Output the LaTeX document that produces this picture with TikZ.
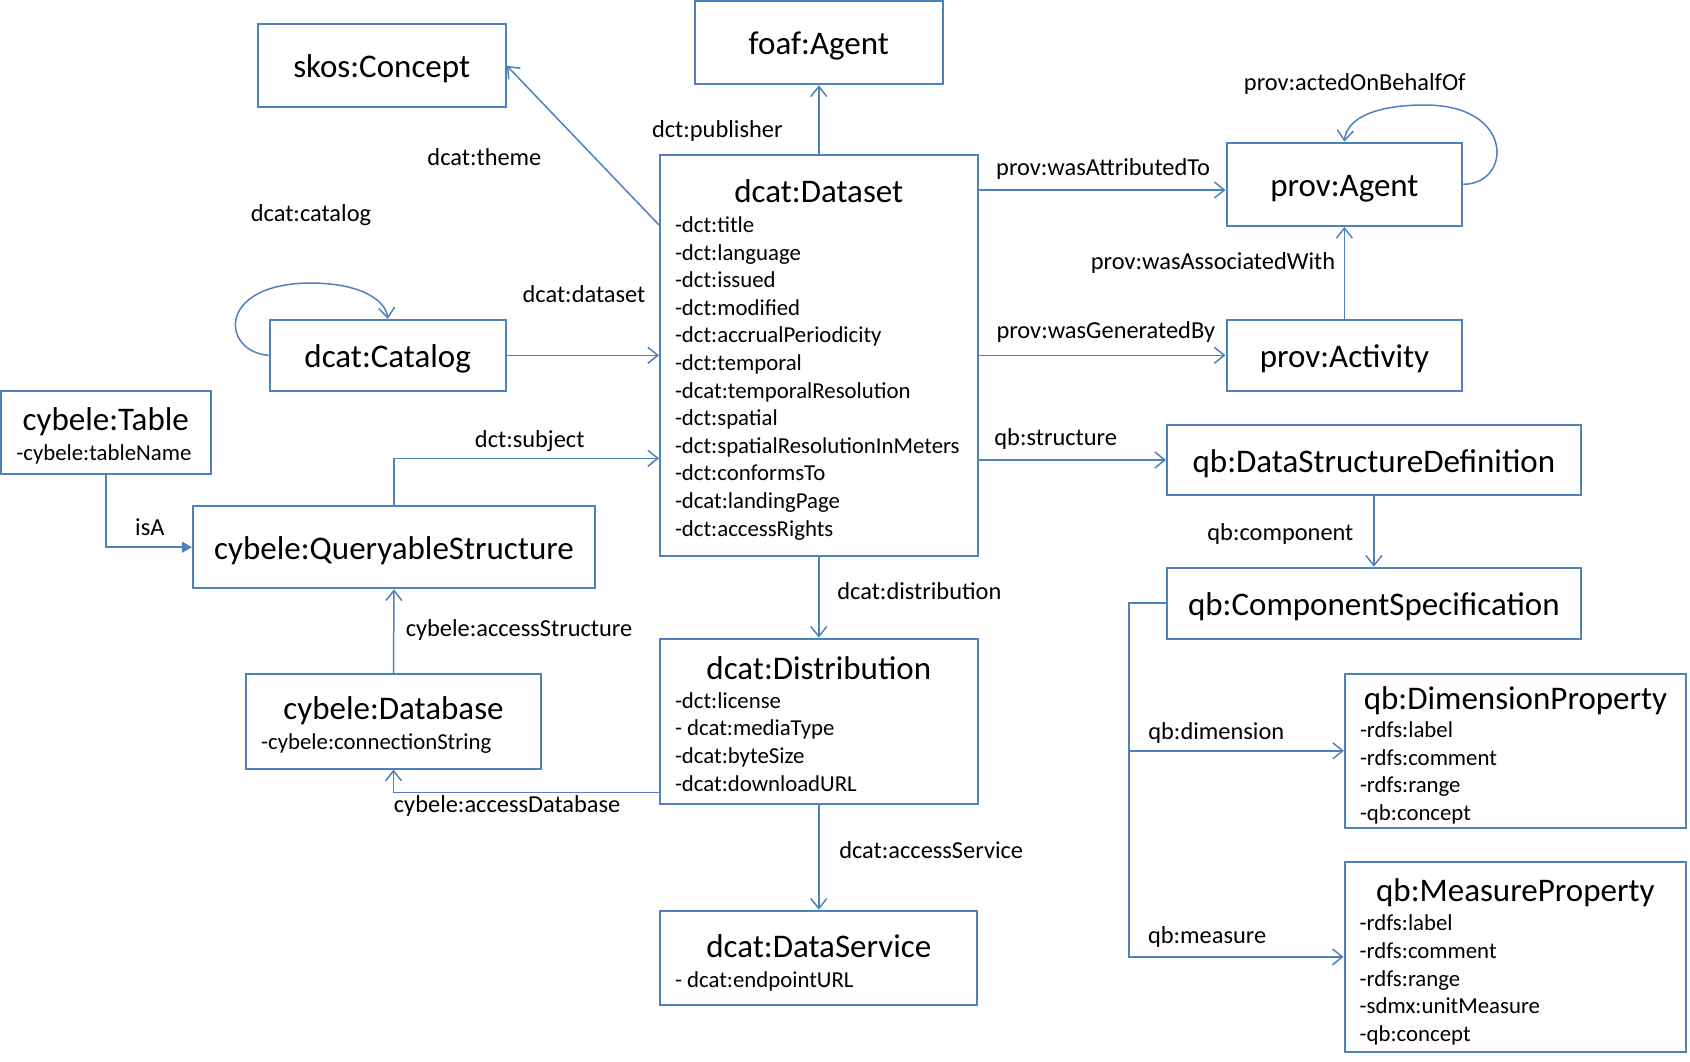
\documentclass[tikz,border=0pt]{standalone}
\usepackage{fontspec}
\setmainfont{Carlito}
\usetikzlibrary{arrows.meta}
\definecolor{linkblue}{HTML}{4F81BD}

\begin{document}
\begin{tikzpicture}[x=1pt, y=-1pt, >={Straight Barb[length=10pt,width=16pt]},
  box/.style={draw=linkblue, line width=2pt, fill=white, inner sep=0pt},
  single/.style={box, font=\fontsize{33}{40}\selectfont, text height=24pt, text depth=0pt},
  title/.style={font=\fontsize{33}{40}\selectfont, inner sep=0pt, anchor=base},
  attrs/.style={font=\fontsize{22.8}{27.6}\selectfont, inner sep=0pt, anchor=north west, align=left},
  lbl/.style={font=\fontsize{24.4}{29}\selectfont, inner sep=0pt, anchor=base},
  link/.style={draw=linkblue, line width=1.5pt, ->},
  isa/.style={draw=linkblue, line width=1.5pt, -{Triangle[length=10pt,width=11pt]}}]
\useasboundingbox (0,0) rectangle (1690,1061);

% boxes
\node[single, minimum width=248.2pt, minimum height=82.7pt] (Concept) at (381.7,65.7) {skos:Concept};
\node[single, minimum width=247.8pt, minimum height=83.3pt] (FoafAgent) at (818.8,42.7) {foaf:Agent};
\node[box, minimum width=317.5pt, minimum height=400.7pt] (Dataset) at (818.8,355.3) {};
\node[single, minimum width=236.2pt, minimum height=70.7pt] (Catalog) at (387.7,355.3) {dcat:Catalog};
\node[single, minimum width=235.7pt, minimum height=83.3pt] (ProvAgent) at (1344.4,184.3) {prov:Agent};
\node[single, minimum width=235.7pt, minimum height=70.7pt] (Activity) at (1344.4,355.3) {prov:Activity};
\node[box, minimum width=209.8pt, minimum height=83.3pt] (Table) at (105.8,432.3) {};
\node[single, minimum width=402.1pt, minimum height=82.3pt] (Queryable) at (394,547.2) {cybele:QueryableStructure};
\node[box, minimum width=295pt, minimum height=94.7pt] (Database) at (393.5,721.3) {};
\node[single, minimum width=413.8pt, minimum height=70pt] (DSD) at (1373.9,460) {qb:DataStructureDefinition};
\node[single, minimum width=413.8pt, minimum height=71pt] (CompSpec) at (1373.9,603.2) {qb:ComponentSpecification};
\node[box, minimum width=317.5pt, minimum height=165.3pt] (Distribution) at (818.8,721.3) {};
\node[box, minimum width=341pt, minimum height=153.7pt] (DimProp) at (1515.5,750.8) {};
\node[box, minimum width=317pt, minimum height=94pt] (DataService) at (818.8,957.7) {};
\node[box, minimum width=341.4pt, minimum height=189.4pt] (MeasProp) at (1515.3,956.9) {};

% titles and attributes
\node[title] (DatasetT) at (818.8,202) {dcat:Dataset};
\node[attrs] (DatasetA) at (674.8,213) {\strut-dct:title\\-dct:language\\-dct:issued\\-dct:modified\\-dct:accrualPeriodicity\\-dct:temporal\\-dcat:temporalResolution\\-dct:spatial\\-dct:spatialResolutionInMeters\\-dct:conformsTo\\-dcat:landingPage\\-dct:accessRights};
\node[title] (DistributionT) at (818.8,679) {dcat:Distribution};
\node[attrs] (DistributionA) at (674.8,688.7) {\strut-dct:license\\- dcat:mediaType\\-dcat:byteSize\\-dcat:downloadURL};
\node[title] (DimPropT) at (1515.5,709) {qb:DimensionProperty};
\node[attrs] (DimPropA) at (1359.8,718) {\strut-rdfs:label\\-rdfs:comment\\-rdfs:range\\-qb:concept};
\node[title] (MeasPropT) at (1515.3,901) {qb:MeasureProperty};
\node[attrs] (MeasPropA) at (1359.5,911.3) {\strut-rdfs:label\\-rdfs:comment\\-rdfs:range\\-sdmx:unitMeasure\\-qb:concept};
\node[title] (TableT) at (105.8,430.8) {cybele:Table};
\node[attrs] (TableA) at (16.2,440.7) {\strut-cybele:tableName};
\node[title] (DatabaseT) at (393.5,719.8) {cybele:Database};
\node[attrs] (DatabaseA) at (261,729.7) {\strut-cybele:connectionString};
\node[title] (DataServiceT) at (818.8,957.3) {dcat:DataService};
\node[attrs] (DataServiceA) at (674.8,968) {\strut- dcat:endpointURL};

% connector labels
\node[lbl] (ThemeL) at (484.4,165) {dcat:theme};
\node[lbl] (CatalogL) at (311,221.2) {dcat:catalog};
\node[lbl] (DatasetL) at (584,302.6) {dcat:dataset};
\node[lbl] (PublisherL) at (717.3,137.9) {dct:publisher};
\node[lbl] (AttributedL) at (1103.1,175.2) {prov:wasAttributedTo};
\node[lbl] (BehalfL) at (1354.8,90.5) {prov:actedOnBehalfOf};
\node[lbl] (AssociatedL) at (1213,269.4) {prov:wasAssociatedWith};
\node[lbl] (GeneratedL) at (1105.8,338.4) {prov:wasGeneratedBy};
\node[lbl] (StructureL) at (1055.7,445) {qb:structure};
\node[lbl] (SubjectL) at (529.7,447) {dct:subject};
\node[lbl] (IsAL) at (149.8,535.6) {isA};
\node[lbl] (ComponentL) at (1280.4,540) {qb:component};
\node[lbl] (DistributionL) at (919.4,599.2) {dcat:distribution};
\node[lbl] (AccessStructureL) at (519,636) {cybele:accessStructure};
\node[lbl] (DimensionL) at (1216.3,739.3) {qb:dimension};
\node[lbl] (AccessDatabaseL) at (507.1,812.6) {cybele:accessDatabase};
\node[lbl] (AccessServiceL) at (931.2,858) {dcat:accessService};
\node[lbl] (MeasureL) at (1207.1,943) {qb:measure};

% connectors
\coordinate (ThemeFrom) at ([yshift=130.3pt]Dataset.west);
\coordinate (AttrFrom) at ([yshift=165.3pt]Dataset.east);
\coordinate (SubjTo) at ([yshift=-103pt]Dataset.west);
\coordinate (DbFrom) at ([yshift=-71.4pt]Distribution.west);
\draw [link] (ThemeFrom) -- (Concept.east);
\draw [link] (Dataset.north) -- (FoafAgent.south);
\draw [link] (Catalog.east) -- (Dataset.west);
\draw [link] (Catalog.west) .. controls (222,352) and (215,284) .. (310,283) .. controls (360,283) and (386,300) .. (Catalog.north);
\draw [link] (AttrFrom) -- (AttrFrom -| ProvAgent.west);
\draw [link] (ProvAgent.east) .. controls (1512,184) and (1515,105) .. (1425,105) .. controls (1368,105) and (1346,122) .. (ProvAgent.north);
\draw [link] (Dataset.east) -- (Activity.west);
\draw [link] (Activity.north) -- (ProvAgent.south);
\draw [link] (Dataset.east |- DSD.west) -- (DSD.west);
\draw [link] (DSD.south) -- (CompSpec.north);
\draw [link] (CompSpec.west) -- ++(-37,0) coordinate (Fork) |- (MeasProp.west);
\draw [link] (Fork |- DimProp.west) -- (DimProp.west);
\draw [link] (Dataset.south) -- (Distribution.north);
\draw [link] (Distribution.south) -- (DataService.north);
\draw [link] (DbFrom) -| (Database.south);
\draw [link] (Database.north) -- (Queryable.south);
\draw [link] (Queryable.north) |- (SubjTo);
\draw [isa] (Table.south) |- (Queryable.west);
\end{tikzpicture}
\end{document}
